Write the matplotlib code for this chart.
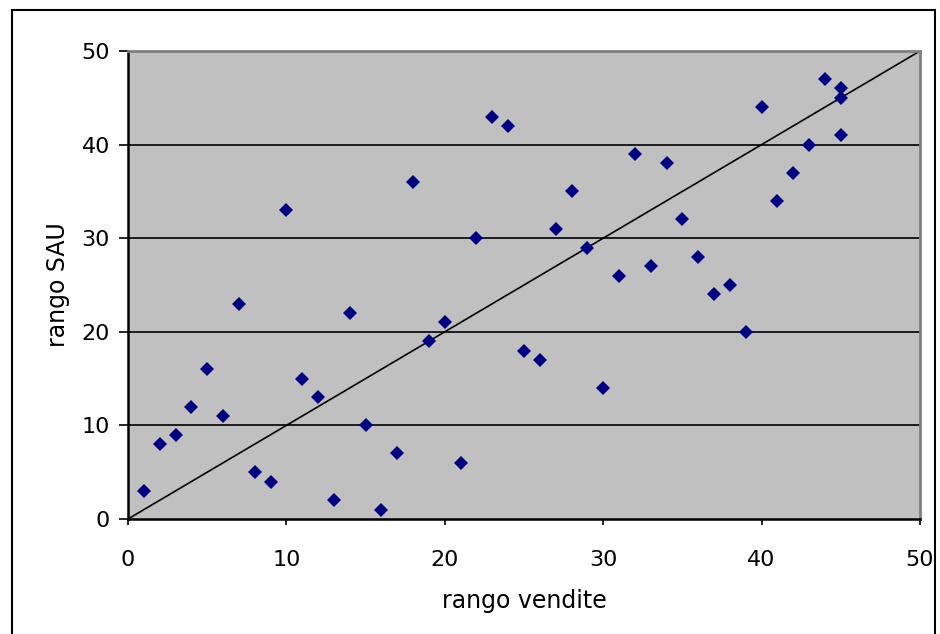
import numpy as np
import matplotlib.pyplot as plt
from matplotlib.patches import Rectangle

# ranks
rango_vendite = [1, 2, 3, 4, 5, 6, 7, 8, 9, 10, 11, 12, 13, 14, 15, 16, 17, 18, 19, 20,
                 21, 22, 23, 24, 25, 26, 27, 28, 29, 30, 31, 32, 33, 34, 35, 36, 37, 38,
                 39, 40, 41, 42, 43, 44, 45, 45, 45]
rango_sau = [3, 8, 9, 12, 16, 11, 23, 5, 4, 33, 15, 13, 2, 22, 10, 1, 7, 36, 19, 21,
             6, 30, 43, 42, 18, 17, 31, 35, 29, 14, 26, 39, 27, 38, 32, 28, 24, 25,
             20, 44, 34, 37, 40, 47, 46, 45, 41]
diag = [0, 50]
ticks = [0, 10, 20, 30, 40, 50]

fig = plt.figure(figsize=(9.4, 6.34), dpi=100)
fig.patch.set_facecolor('white')
# outer chart frame
fig.patches.append(Rectangle((12/940, -0.01), 923/940, 1 - 10/634 + 0.01,
                             transform=fig.transFigure, fill=False,
                             edgecolor='black', linewidth=1.5))

ax = fig.add_axes([128/940, 1 - 519/634, 792/940, 468/634])
ax.set_facecolor('#C0C0C0')

for t in ticks[1:-1]:
    ax.axhline(t, color='black', linewidth=1.2, zorder=1)

ax.plot(diag, diag, color='black', linewidth=1.2, zorder=2)
ax.plot(rango_vendite, rango_sau, linestyle='none', marker='D', markersize=7.5,
        color='#000080', markeredgewidth=0, zorder=3)

ax.set_xlim(0, 50)
ax.set_ylim(0, 50)
ax.set_xticks(ticks)
ax.set_yticks(ticks)
ax.tick_params(direction='out', width=1.2, labelsize=16, colors='black')
ax.tick_params(axis='x', length=4, pad=18)
ax.tick_params(axis='y', length=6.5, pad=6.5)

for s in ['top', 'right']:
    ax.spines[s].set_color('#808080')
    ax.spines[s].set_linewidth(2)
for s in ['left', 'bottom']:
    ax.spines[s].set_color('black')
    ax.spines[s].set_linewidth(1.8)

ax.set_xlabel('rango vendite', fontsize=17, labelpad=14)
ax.set_ylabel('rango SAU', fontsize=17, labelpad=8)

fig.savefig('out.png', dpi=100)
